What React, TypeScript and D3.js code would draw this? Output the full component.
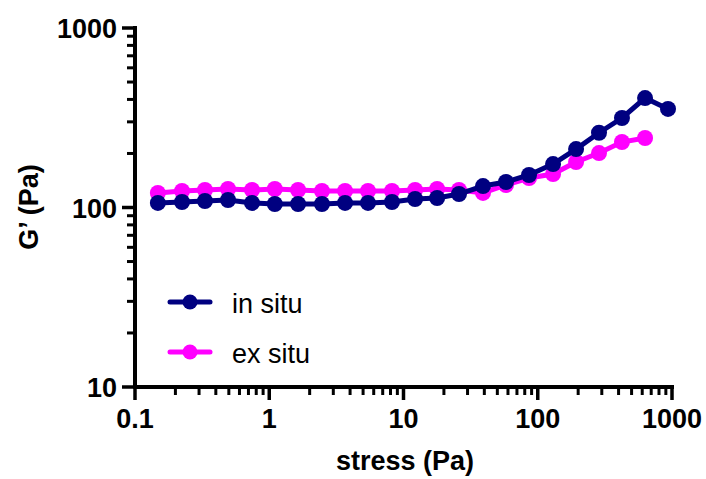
import React from 'react'
import * as d3 from 'd3'

// stress (Pa)
const stress = [0.148, 0.224, 0.332, 0.493, 0.744, 1.1, 1.64, 2.47, 3.67, 5.44, 8.21, 12.2, 17.8, 25.9, 39.1, 58.0, 86.1, 130, 193, 286, 424, 630, 934]
// G' (Pa)
const inSitu = [106, 107.3, 108.7, 110.1, 106, 104.6, 104.6, 104.6, 106, 106, 107.3, 111.5, 113, 118.9, 131.7, 138.7, 151.7, 174.6, 211.6, 260.8, 315.3, 407, 354]
const exSitu = [120.5, 123.6, 125.2, 126.8, 125.2, 126.8, 125.2, 123.6, 123.6, 123.6, 123.6, 125.2, 126.8, 125.2, 120.5, 133.5, 146, 153.6, 179.3, 201, 231.6, 243.8]

const xMajor = [0.1, 1, 10, 100, 1000]
const xMajorLabels = ['0.1', '1', '10', '100', '1000']
const yMajor = [10, 100, 1000]
const yMajorLabels = ['10', '100', '1000']

const seriesNames = ['in situ', 'ex situ']
const seriesColors = ['#000080', '#ff00ff']

const W = 706
const H = 479
const font = "'Liberation Sans', Arial, sans-serif"

const App = () => {
  const x = d3.scaleLog().domain([0.1, 1000]).range([135, 672])
  const y = d3.scaleLog().domain([10, 1000]).range([387, 28])

  const line = d3.line<[number, number]>()
    .x(d => x(d[0]))
    .y(d => y(d[1]))

  const series = [
    { name: seriesNames[0], color: seriesColors[0], pts: inSitu.map((v, i) => [stress[i], v] as [number, number]) },
    { name: seriesNames[1], color: seriesColors[1], pts: exSitu.map((v, i) => [stress[i], v] as [number, number]) },
  ]
  // ex situ goes underneath
  const drawOrder = [series[1], series[0]]

  const isMajor = (v: number) => Math.abs(Math.log10(v) - Math.round(Math.log10(v))) < 1e-6
  const xMinor = x.ticks().filter(v => !isMajor(v))
  const yMinor = y.ticks().filter(v => !isMajor(v))

  const x0 = x.range()[0]
  const y0 = y.range()[0]

  return (
    <svg width={W} height={H} style={{ position: 'absolute', left: 0, top: 0, background: '#fff' }}>
      {/* data */}
      {drawOrder.map(s => (
        <g key={s.name}>
          <path d={line(s.pts) || ''} fill="none" stroke={s.color} strokeWidth={5} />
          {s.pts.map((p, i) => (
            <circle key={i} cx={x(p[0])} cy={y(p[1])} r={8} fill={s.color} />
          ))}
        </g>
      ))}

      {/* x axis */}
      <g stroke="#000">
        <line x1={x0 - 1.5} x2={x(1000) + 2} y1={y0} y2={y0} strokeWidth={4} />
        {xMajor.map(v => (
          <line key={v} x1={x(v)} x2={x(v)} y1={y0} y2={y0 + 13} strokeWidth={3.5} />
        ))}
        {xMinor.map(v => (
          <line key={v} x1={x(v)} x2={x(v)} y1={y0} y2={y0 + 8} strokeWidth={3} />
        ))}
      </g>
      {xMajor.map((v, i) => (
        <text key={v} x={x(v)} y={428} textAnchor="middle" fontFamily={font} fontWeight="bold" fontSize={27}>
          {xMajorLabels[i]}
        </text>
      ))}
      <text x={405} y={470} textAnchor="middle" fontFamily={font} fontWeight="bold" fontSize={27}>
        stress (Pa)
      </text>

      {/* y axis */}
      <g stroke="#000">
        <line x1={x0} x2={x0} y1={y(1000) - 2} y2={y0 + 1.5} strokeWidth={4} />
        {yMajor.map(v => (
          <line key={v} x1={x0 - 13} x2={x0} y1={y(v)} y2={y(v)} strokeWidth={3.5} />
        ))}
        {yMinor.map(v => (
          <line key={v} x1={x0 - 8} x2={x0} y1={y(v)} y2={y(v)} strokeWidth={3} />
        ))}
      </g>
      {yMajor.map((v, i) => (
        <text key={v} x={117} y={y(v) + 10} textAnchor="end" fontFamily={font} fontWeight="bold" fontSize={27}>
          {yMajorLabels[i]}
        </text>
      ))}
      <text transform="translate(38,207) rotate(-90)" textAnchor="middle" fontFamily={font} fontWeight="bold" fontSize={27}>
        G’ (Pa)
      </text>

      {/* legend */}
      {series.map((s, i) => (
        <g key={s.name} transform={`translate(0,${302 + i * 50})`}>
          <line x1={170} x2={210} y1={0} y2={0} stroke={s.color} strokeWidth={5} strokeLinecap="round" />
          <circle cx={190} cy={0} r={7.5} fill={s.color} />
          <text x={232} y={11} fontFamily={font} fontSize={27}>{s.name}</text>
        </g>
      ))}
    </svg>
  )
}

export default App
